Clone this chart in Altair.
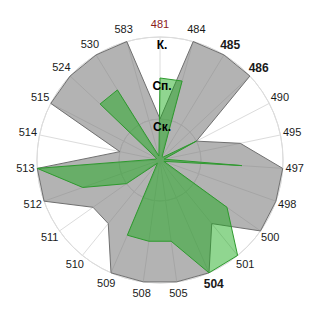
import math
import altair as alt
import pandas as pd

categories = ["481", "484", "485", "486", "490", "495", "497", "498", "500", "501", "504",
              "505", "508", "509", "510", "511", "512", "513", "514", "515", "524", "530", "583"]
gray_values = [1, 3, 3, 3, 1, 2, 3, 3, 3, 2, 3, 3, 3, 3, 2, 2, 3, 3, 1, 3, 3, 3, 3]
green_values = [2, 2, 0.1, 0.1, 1, 0.1, 2, 0.1, 2, 3, 3, 2, 2, 2, 0.1, 1, 2, 3, 0.1, 0.1, 2, 2, 0.1]
ring_levels = [1, 2, 3]
ring_labels = ["Ск.", "Сп.", "К."]
bold_labels = ["485", "486", "504"]
red_labels = ["481"]

N = len(categories)
MAX_LEVEL = 3
UNIT = 41.0
HALF = 160.0
D = HALF / UNIT
LABEL_R = 135.0 / UNIT


def polar(i, v):
    a = 2 * math.pi * i / N
    return v * math.sin(a), v * math.cos(a)


xs = alt.Scale(domain=[-D, D], range=[0, 320], nice=False, zero=False)
ys = alt.Scale(domain=[-D, D], range=[320, 0], nice=False, zero=False)

# polygons
rows = []
for name, vals in (("gray", gray_values), ("green", green_values)):
    for i, v in enumerate(vals):
        x, y = polar(i, v)
        rows.append({"series": name, "idx": i, "x": x, "y": y})
poly = pd.DataFrame(rows)

# spokes
sp = []
for i in range(N):
    x, y = polar(i, MAX_LEVEL)
    sp.append({"x": 0.0, "y": 0.0, "x2": x, "y2": y})
spokes_df = pd.DataFrame(sp)

rings_df = pd.DataFrame({"level": ring_levels})

# category labels
lab = []
for i, c in enumerate(categories):
    x, y = polar(i, LABEL_R)
    kind = "red" if c in red_labels else ("bold" if c in bold_labels else "normal")
    lab.append({"label": c, "x": x, "y": y, "kind": kind})
lab_df = pd.DataFrame(lab)

ring_lab_df = pd.DataFrame({"label": ring_labels, "level": ring_levels})
ring_lab_df["x"] = 0.0
ring_lab_df["y"] = ring_lab_df["level"] - 0.2

rings = alt.Chart(rings_df).mark_arc(
    filled=False, stroke="#dcdcdc", strokeWidth=1, theta=0, theta2=2 * math.pi
).encode(
    radius=alt.Radius("level:Q", scale=alt.Scale(type="linear", domain=[0, D], range=[0, HALF], zero=True))
)

spokes = alt.Chart(spokes_df).mark_rule(stroke="#dcdcdc", strokeWidth=1).encode(
    x=alt.X("x:Q", scale=xs, axis=None),
    y=alt.Y("y:Q", scale=ys, axis=None),
    x2="x2:Q",
    y2="y2:Q",
)

gray_poly = alt.Chart(poly[poly.series == "gray"]).mark_line(
    interpolate="linear-closed", fill="#808080", fillOpacity=0.6, stroke="#707070", strokeWidth=1
).encode(
    x=alt.X("x:Q", scale=xs, axis=None),
    y=alt.Y("y:Q", scale=ys, axis=None),
    order="idx:Q",
)

green_poly = alt.Chart(poly[poly.series == "green"]).mark_line(
    interpolate="linear-closed", fill="#18aa18", fillOpacity=0.48, stroke="#2e9a2e", strokeWidth=1
).encode(
    x=alt.X("x:Q", scale=xs, axis=None),
    y=alt.Y("y:Q", scale=ys, axis=None),
    order="idx:Q",
)


def labels(kind, color, weight, size):
    return alt.Chart(lab_df[lab_df.kind == kind]).mark_text(
        font="Liberation Sans", fontSize=size, fontWeight=weight, color=color,
        align="center", baseline="middle"
    ).encode(
        x=alt.X("x:Q", scale=xs, axis=None),
        y=alt.Y("y:Q", scale=ys, axis=None),
        text="label:N",
    )


ring_text = alt.Chart(ring_lab_df).mark_text(
    font="Liberation Sans", fontSize=12, fontWeight="bold", color="#000000",
    align="center", baseline="middle", dx=2
).encode(
    x=alt.X("x:Q", scale=xs, axis=None),
    y=alt.Y("y:Q", scale=ys, axis=None),
    text="label:N",
)

chart = alt.layer(
    rings, spokes, gray_poly, green_poly,
    labels("normal", "#1a1a1a", "normal", 11),
    labels("bold", "#1a1a1a", "bold", 12),
    labels("red", "#8b1a1a", "normal", 11),
    ring_text,
).properties(
    width=320, height=320, padding=0, autosize=alt.AutoSizeParams(type="none")
).configure_view(stroke=None)

chart.save("out.html", embed_options={"renderer": "svg", "actions": False})
